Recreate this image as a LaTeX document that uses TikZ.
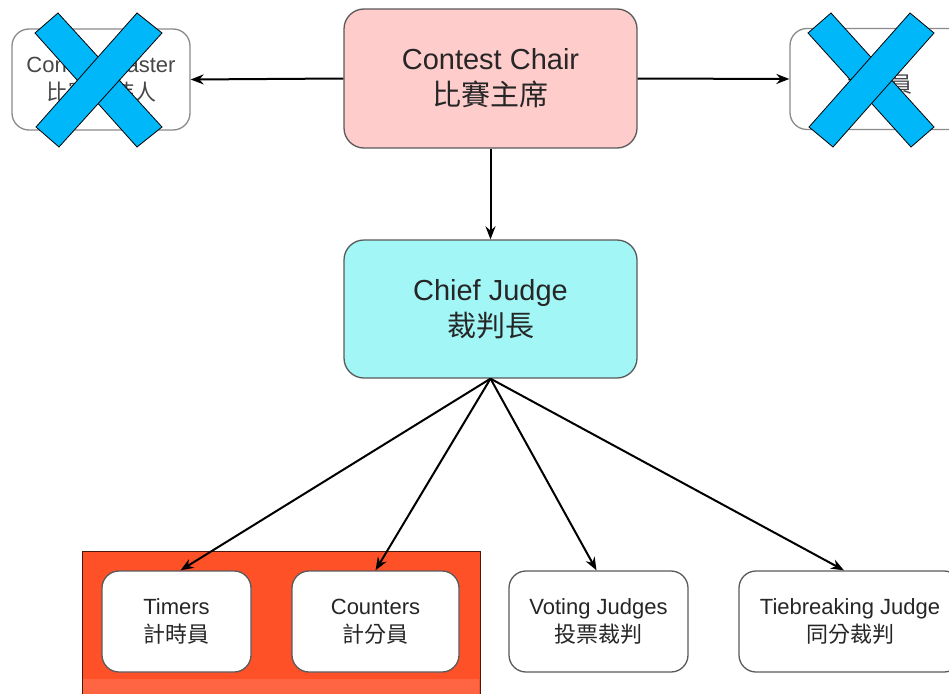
\documentclass[tikz,border=0pt]{standalone}
\usepackage{fontspec}
\setmainfont{Liberation Sans}
\newfontfamily\cjk{Noto Sans CJK TC}
\usetikzlibrary{arrows.meta}
\definecolor{chairpink}{HTML}{FFCCCC}
\definecolor{judgecyan}{HTML}{A2F6F6}
\definecolor{teamred}{HTML}{FF5127}
\definecolor{teamredlow}{HTML}{FF6543}
\definecolor{xblue}{HTML}{00B7FA}
\definecolor{boxline}{HTML}{5A5A5A}
\definecolor{greyline}{HTML}{8A8A8A}
\definecolor{greytext}{HTML}{474747}
\tikzset{
  bigbox/.style={draw=boxline, line width=1.3pt, rounded corners=20pt, align=center,
    font=\fontsize{29}{36}\selectfont, text=black!85, inner sep=0pt},
  smallbox/.style={draw=boxline, line width=1.3pt, fill=white, rounded corners=17pt,
    align=center, font=\fontsize{22}{28}\selectfont, text=black!85, inner sep=0pt, minimum height=101pt},
  sidebox/.style={draw=greyline, line width=1.3pt, fill=white, rounded corners=17pt,
    align=center, font=\fontsize{22}{28}\selectfont, text=greytext, inner sep=0pt,
    minimum height=101pt, minimum width=178pt},
  conn/.style={line width=2pt, -{Stealth[length=13pt,width=10pt]}},
  xband/.style={fill=xblue, draw=black, line width=0.8pt},
}
\begin{document}
\begin{tikzpicture}[x=1pt,y=-1pt]
\useasboundingbox (0,0) rectangle (949,693);
\fill[white] (0,0) rectangle (949,693);
\begin{scope}
\clip (0,0) rectangle (949,693);
% team background
\fill[teamred, draw=black!70!teamred, line width=0.8pt] (82,551) rectangle (480,710);
\fill[teamredlow] (83,679) rectangle (479,710);
% nodes
\node[sidebox] (cm) at (101,79.5) {Contest Master\\{\cjk 比賽主持人}};
\node[sidebox] (rt) at (879,79) {\mbox{}\\{\cjk 司儀員}};
\node[bigbox, fill=chairpink, minimum width=293pt, minimum height=139pt] (cc) at (490.5,78.5)
  {Contest Chair\\{\cjk 比賽主席}};
\node[bigbox, fill=judgecyan, minimum width=293pt, minimum height=138pt] (cj) at (490.5,309)
  {Chief Judge\\{\cjk 裁判長}};
\node[smallbox, minimum width=149pt] (tm) at (176.5,621.5) {Timers\\{\cjk 計時員}};
\node[smallbox, minimum width=167pt] (ct) at (375.5,621.5) {Counters\\{\cjk 計分員}};
\node[smallbox, minimum width=179pt] (vj) at (598.5,621.5) {Voting Judges\\{\cjk 投票裁判}};
\node[smallbox, minimum width=222pt] (tb) at (850,621.5) {Tiebreaking Judge\\{\cjk 同分裁判}};
% connectors
\draw[conn] (cc.west) -- (cm.east);
\draw[conn] (cc.east) -- (rt.west);
\draw[conn] (cc.south) -- (cj.north);
\coordinate (hub) at (cj.south);
\draw[conn] (hub) -- ([xshift=4pt]tm.north);
\draw[conn] (hub) -- (ct.north);
\draw[conn] (hub) -- ([xshift=-2pt]vj.north);
\draw[conn] (hub) -- ([xshift=-6pt]tb.north);
% crosses
\path[xband] (35,33) -- (58,13) -- (162,127) -- (137,147) -- cycle;
\path[xband] (137,13) -- (162,33) -- (59,147) -- (36,127) -- cycle;
\path[xband] (808,33) -- (831,13) -- (934,127) -- (911,147) -- cycle;
\path[xband] (910,13) -- (934,33) -- (833,147) -- (809,127) -- cycle;
\end{scope}
\end{tikzpicture}
\end{document}
